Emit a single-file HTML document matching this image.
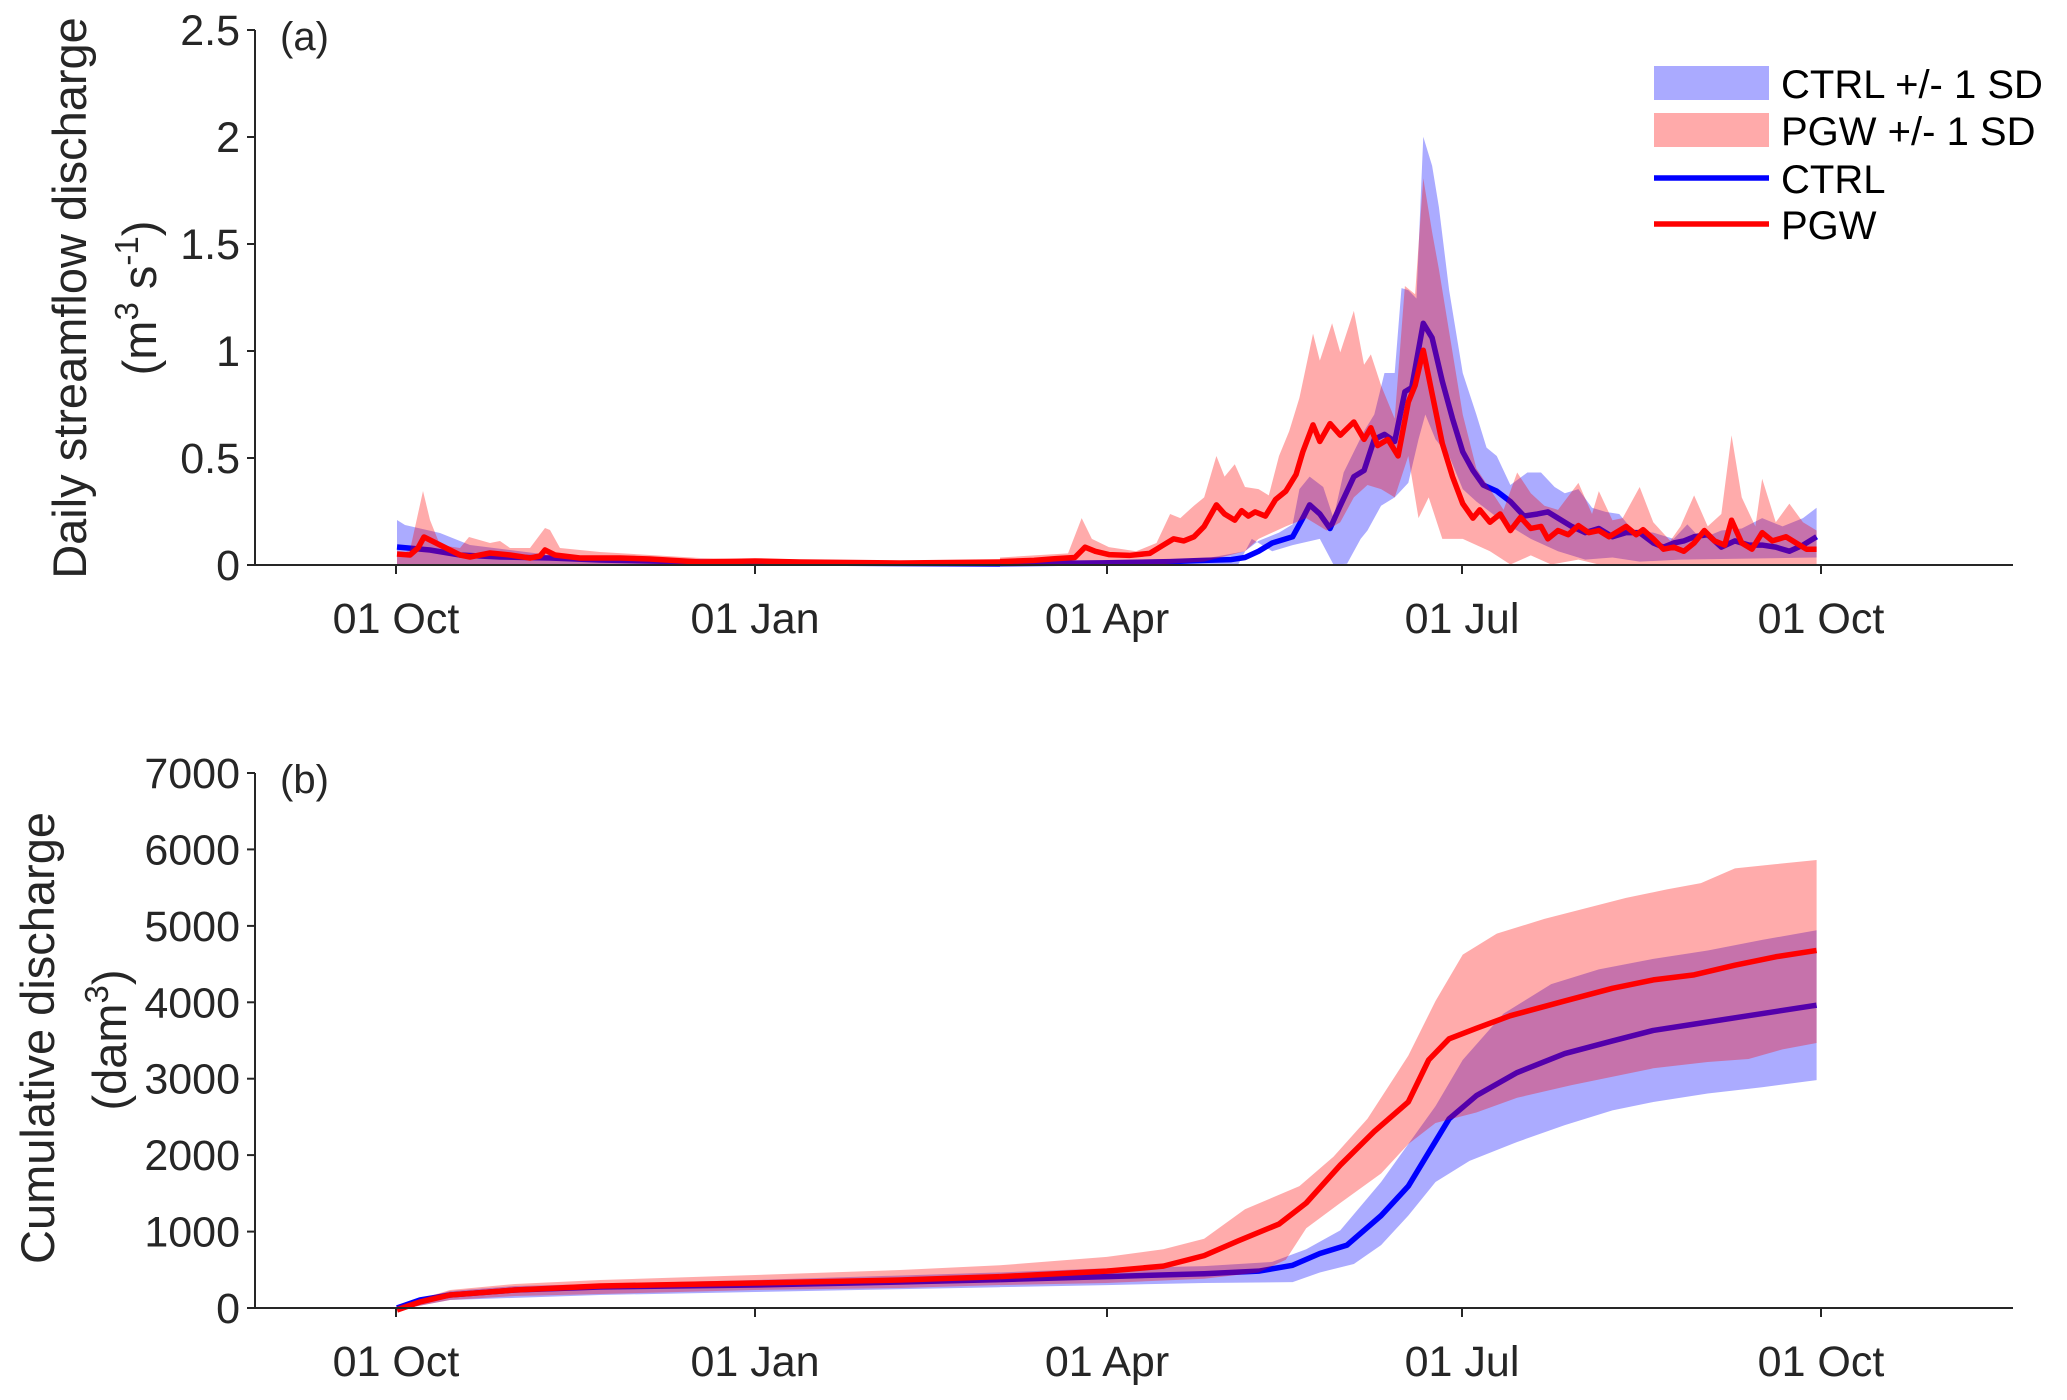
<!DOCTYPE html>
<html><head><meta charset="utf-8"><style>
html,body{margin:0;padding:0;background:#fff;}
svg{display:block;font-family:"Liberation Sans",Arial,sans-serif;}
</style></head><body>
<svg width="2067" height="1400" viewBox="0 0 2067 1400" xmlns="http://www.w3.org/2000/svg">
<rect width="2067" height="1400" fill="#fff"/>

<!-- ================= PANEL A ================= -->
<g>
<polygon fill="#0000ff" fill-opacity="0.33" points="397,520 405,525 440,533 470,545 550,555 600,557 800,561 1000,563 1000,565 397,565"/>
<polyline fill="none" stroke="#0000ff" stroke-width="5.5" stroke-linejoin="round" points="397,547 430,550 460,555 500,557 550,558 600,560 700,562 800,563 1000,564"/>
<polygon fill="#ff0000" fill-opacity="0.33" points="397,556 410,550 423,491 430,520 440,545 460,548 469,537 490,543 500,541 510,548 530,548 545,528 550,530 560,548 600,552 650,555 700,558 800,560 1000,561 1000,565 397,565"/>
<polyline fill="none" stroke="#ff0000" stroke-width="5.5" stroke-linejoin="round" points="397,554 410,555 418,548 424,537 440,545 460,555 470,557 490,553 510,555 530,558 540,556 545,550 555,555 580,558 620,558 650,559 700,562 755,561 800,562 900,563 1000,562"/>
</g>
<g transform="translate(1000,0) scale(0.6805,0.4145)">
<polygon fill="#0000ff" fill-opacity="0.33" points="0,1355 300,1348 360,1330 380,1305 410,1285 430,1265 440,1180 455,1150 475,1175 490,1250 505,1140 520,1090 535,1040 550,1000 565,900 580,900 590,695 600,700 612,720 622,330 635,400 645,500 660,700 680,900 700,1000 715,1080 730,1100 750,1170 775,1140 795,1140 815,1175 830,1190 850,1180 870,1225 890,1235 910,1240 930,1280 960,1285 990,1300 1010,1265 1030,1300 1060,1280 1090,1275 1120,1250 1150,1270 1180,1250 1200,1225 1200,1345 1000,1350 940,1355 900,1345 860,1350 820,1330 780,1300 740,1260 700,1210 680,1180 660,1100 640,1060 625,1000 615,1060 600,1165 580,1200 560,1220 540,1280 530,1300 510,1360 490,1362 470,1300 430,1315 400,1330 370,1300 350,1362 0,1362"/>
<polyline fill="none" stroke="#0000ff" stroke-width="5.5" vector-effect="non-scaling-stroke" stroke-linejoin="round" points="0,1360 150,1358 250,1355 300,1352 340,1350 360,1345 380,1330 400,1310 430,1295 445,1250 455,1218 470,1240 485,1275 500,1220 520,1150 535,1135 550,1060 565,1048 580,1065 595,945 605,935 622,780 635,815 650,920 665,1010 680,1090 695,1135 710,1170 730,1185 750,1210 770,1245 790,1240 805,1235 820,1250 840,1270 860,1285 880,1275 900,1295 920,1285 940,1285 960,1310 975,1320 990,1310 1005,1305 1020,1295 1040,1290 1060,1320 1080,1305 1100,1315 1120,1315 1140,1320 1160,1330 1180,1315 1200,1295"/>
<polygon fill="#ff0000" fill-opacity="0.33" points="0,1345 50,1340 100,1335 120,1250 135,1300 160,1320 200,1330 230,1310 250,1240 265,1250 285,1220 300,1200 318,1100 330,1150 345,1120 360,1175 380,1180 395,1195 410,1100 425,1040 440,960 460,805 470,870 488,780 500,850 520,750 535,880 545,855 560,930 580,1010 595,690 610,710 622,430 635,560 645,650 660,800 680,1000 700,1130 720,1180 740,1230 760,1140 780,1190 800,1220 820,1230 850,1165 870,1240 880,1185 900,1255 915,1250 940,1175 960,1260 985,1305 1000,1270 1020,1195 1040,1270 1060,1240 1075,1050 1090,1200 1110,1270 1120,1155 1140,1260 1160,1215 1180,1260 1200,1280 1200,1362 940,1362 880,1362 850,1350 810,1362 780,1340 750,1362 720,1330 680,1300 650,1300 630,1200 615,1250 600,1100 580,1200 560,1180 540,1170 520,1200 500,1260 480,1280 450,1250 420,1270 380,1300 360,1330 300,1355 230,1362 0,1362"/>
<polyline fill="none" stroke="#ff0000" stroke-width="5.5" vector-effect="non-scaling-stroke" stroke-linejoin="round" points="0,1355 50,1352 80,1348 110,1345 125,1320 140,1330 160,1338 190,1340 220,1335 240,1315 255,1300 270,1305 285,1295 300,1270 318,1218 330,1240 345,1255 355,1232 365,1245 375,1235 390,1245 405,1205 420,1185 435,1145 445,1090 460,1025 470,1065 485,1022 500,1050 520,1018 535,1060 545,1032 555,1075 570,1060 585,1100 600,970 610,930 622,845 635,950 650,1070 665,1150 680,1215 695,1250 705,1230 720,1260 735,1240 750,1280 765,1248 780,1275 795,1270 805,1300 820,1280 835,1290 850,1268 865,1285 880,1280 895,1295 910,1280 920,1270 935,1290 945,1278 960,1300 975,1325 990,1320 1005,1330 1020,1310 1035,1280 1050,1305 1065,1315 1075,1255 1090,1310 1105,1325 1120,1285 1135,1305 1155,1295 1170,1310 1185,1325 1200,1325"/>
</g>

<g stroke="#262626" stroke-width="2" fill="none">
<line x1="255" y1="30" x2="255" y2="566"/>
<line x1="254" y1="565" x2="2013" y2="565"/>
<line x1="247" y1="565" x2="255" y2="565"/>
<line x1="247" y1="458" x2="255" y2="458"/>
<line x1="247" y1="351" x2="255" y2="351"/>
<line x1="247" y1="244" x2="255" y2="244"/>
<line x1="247" y1="137" x2="255" y2="137"/>
<line x1="247" y1="30" x2="255" y2="30"/>
<line x1="396" y1="565" x2="396" y2="574"/>
<line x1="755" y1="565" x2="755" y2="574"/>
<line x1="1107" y1="565" x2="1107" y2="574"/>
<line x1="1462" y1="565" x2="1462" y2="574"/>
<line x1="1821" y1="565" x2="1821" y2="574"/>
</g>
<g font-size="43" fill="#262626" text-anchor="end">
<text x="240" y="580">0</text>
<text x="240" y="473">0.5</text>
<text x="240" y="366">1</text>
<text x="240" y="259">1.5</text>
<text x="240" y="152">2</text>
<text x="240" y="45">2.5</text>
</g>
<g font-size="43" fill="#262626" text-anchor="middle">
<text x="396" y="633">01 Oct</text>
<text x="755" y="633">01 Jan</text>
<text x="1107" y="633">01 Apr</text>
<text x="1462" y="633">01 Jul</text>
<text x="1821" y="633">01 Oct</text>
</g>
<text x="280" y="50" font-size="40" fill="#262626">(a)</text>
<g font-size="47" fill="#262626" text-anchor="middle">
<text transform="translate(86,298) rotate(-90)">Daily streamflow discharge</text>
<text transform="translate(156,298) rotate(-90)">(m<tspan font-size="33" dy="-18">3</tspan><tspan dy="18"> s</tspan><tspan font-size="33" dy="-18">-1</tspan><tspan dy="18">)</tspan></text>
</g>

<rect x="1654" y="66" width="115" height="34" fill="#aaaaff"/>
<rect x="1654" y="113" width="115" height="34" fill="#ffaaaa"/>
<line x1="1654" y1="178" x2="1769" y2="178" stroke="#0000ff" stroke-width="5.5"/>
<line x1="1654" y1="224" x2="1769" y2="224" stroke="#ff0000" stroke-width="5.5"/>
<g font-size="40" fill="#000">
<text x="1781" y="98">CTRL +/- 1 SD</text>
<text x="1781" y="145">PGW +/- 1 SD</text>
<text x="1781" y="193">CTRL</text>
<text x="1781" y="239">PGW</text>
</g>

<!-- ================= PANEL B ================= -->
<g>
<polygon fill="#0000ff" fill-opacity="0.33" points="397,1305 450,1291 515,1286 755,1280 1000,1272.4 1000,1287.2 755,1292 600,1295 450,1300 397,1310"/>
<polyline fill="none" stroke="#0000ff" stroke-width="5.5" stroke-linejoin="round" points="397,1308 420,1300 450,1295 515,1290 600,1287 755,1285 900,1282 1000,1279.6"/>
</g>
<g transform="translate(1000,740) scale(0.6805,0.4209)">
<polygon fill="#0000ff" fill-opacity="0.33" points="0,1265 157,1255 300,1250 400,1240 450,1210 500,1165 560,1050 600,960 640,870 680,760 740,650 810,580 880,545 960,520 1040,500 1120,475 1200,452 1200,808 1120,825 1040,840 960,860 900,880 830,915 760,955 690,1000 640,1050 600,1130 560,1200 520,1245 470,1265 430,1288 300,1290 157,1295 0,1300"/>
<polyline fill="none" stroke="#0000ff" stroke-width="5.5" vector-effect="non-scaling-stroke" stroke-linejoin="round" points="0,1282 157,1275 300,1268 380,1262 430,1248 470,1220 510,1200 560,1130 600,1060 630,980 660,900 700,845 760,790 830,745 900,715 960,690 1020,675 1100,655 1200,630"/>
</g>
<g>
<polygon fill="#ff0000" fill-opacity="0.33" points="397,1306 450,1290 515,1284 600,1280 755,1275 900,1270 1000,1265.3 1000,1285 900,1288 755,1290 600,1294 515,1296 450,1300 397,1310"/>
<polyline fill="none" stroke="#ff0000" stroke-width="5.5" stroke-linejoin="round" points="397,1310 420,1302 450,1295 515,1290 600,1286 755,1283 900,1280 1000,1276.6"/>
</g>
<g transform="translate(1000,740) scale(0.6805,0.4209)">
<polygon fill="#ff0000" fill-opacity="0.33" points="0,1248 157,1228 240,1210 300,1185 360,1115 440,1060 490,990 540,900 600,750 640,620 680,510 730,460 800,425 860,400 920,375 980,355 1030,340 1080,305 1140,295 1200,285 1200,720 1150,735 1100,758 1040,765 960,780 900,800 840,820 760,850 700,885 640,910 600,960 560,1030 500,1100 450,1160 420,1235 380,1265 300,1280 157,1290 0,1295"/>
<polyline fill="none" stroke="#ff0000" stroke-width="5.5" vector-effect="non-scaling-stroke" stroke-linejoin="round" points="0,1275 157,1262 240,1250 300,1225 350,1190 410,1150 450,1100 500,1010 550,930 600,860 630,760 660,710 700,685 750,655 830,620 900,590 960,570 1020,558 1080,535 1140,515 1200,500"/>
</g>

<g stroke="#262626" stroke-width="2" fill="none">
<line x1="255" y1="773" x2="255" y2="1309"/>
<line x1="254" y1="1308" x2="2013" y2="1308"/>
<line x1="247" y1="1308" x2="255" y2="1308"/>
<line x1="247" y1="1231.6" x2="255" y2="1231.6"/>
<line x1="247" y1="1155.1" x2="255" y2="1155.1"/>
<line x1="247" y1="1078.7" x2="255" y2="1078.7"/>
<line x1="247" y1="1002.3" x2="255" y2="1002.3"/>
<line x1="247" y1="925.9" x2="255" y2="925.9"/>
<line x1="247" y1="849.4" x2="255" y2="849.4"/>
<line x1="247" y1="773" x2="255" y2="773"/>
<line x1="396" y1="1308" x2="396" y2="1317"/>
<line x1="755" y1="1308" x2="755" y2="1317"/>
<line x1="1107" y1="1308" x2="1107" y2="1317"/>
<line x1="1462" y1="1308" x2="1462" y2="1317"/>
<line x1="1821" y1="1308" x2="1821" y2="1317"/>
</g>
<g font-size="43" fill="#262626" text-anchor="end">
<text x="240" y="1323">0</text>
<text x="240" y="1246.6">1000</text>
<text x="240" y="1170.1">2000</text>
<text x="240" y="1093.7">3000</text>
<text x="240" y="1017.3">4000</text>
<text x="240" y="940.9">5000</text>
<text x="240" y="864.4">6000</text>
<text x="240" y="788">7000</text>
</g>
<g font-size="43" fill="#262626" text-anchor="middle">
<text x="396" y="1376">01 Oct</text>
<text x="755" y="1376">01 Jan</text>
<text x="1107" y="1376">01 Apr</text>
<text x="1462" y="1376">01 Jul</text>
<text x="1821" y="1376">01 Oct</text>
</g>
<text x="280" y="793" font-size="40" fill="#262626">(b)</text>
<g font-size="47" fill="#262626" text-anchor="middle">
<text transform="translate(54,1038) rotate(-90)">Cumulative discharge</text>
<text transform="translate(126,1040) rotate(-90)">(dam<tspan font-size="33" dy="-18">3</tspan><tspan dy="18">)</tspan></text>
</g>
</svg>
</body></html>
